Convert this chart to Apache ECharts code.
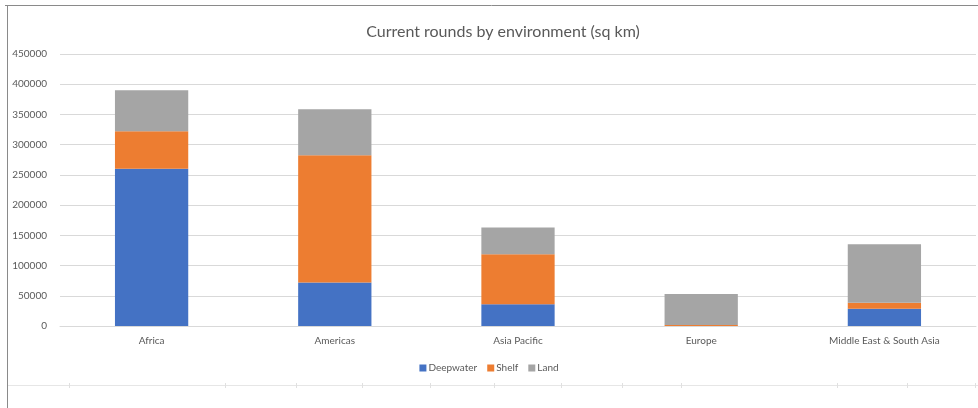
<!DOCTYPE html>
<html>
<head>
<meta charset="utf-8">
<script src="https://cdn.jsdelivr.net/npm/echarts@6/dist/echarts.min.js"></script>
<style>
html,body{margin:0;padding:0;background:#fff;}
#chart{width:978px;height:408px;}
</style>
</head>
<body>
<div id="chart"></div>
<script>
const categories = ['Africa', 'Americas', 'Asia Pacific', 'Europe', 'Middle East & South Asia'];
const deepwater = [260000, 72000, 36000, 0, 28600];
const shelf = [62000, 210500, 82500, 1500, 10000];
const land = [68000, 76000, 44500, 51500, 96500];
const yTicks = [0, 50000, 100000, 150000, 200000, 250000, 300000, 350000, 400000, 450000];
const sheetColumnEdges = [69, 225, 296, 362, 430, 494, 561, 622, 681, 837, 907, 975];

const FONT = 'Lato, "Open Sans", sans-serif';
const TXT = '#595959';

const chart = echarts.init(document.getElementById('chart'), null, {renderer: 'canvas'});

const graphics = [
  {type: 'line', shape: {x1: 7.5, y1: 6, x2: 7.5, y2: 408}, style: {stroke: '#8a8a8a', lineWidth: 1}, silent: true},
  {type: 'line', shape: {x1: 5, y1: 5.5, x2: 978, y2: 5.5}, style: {stroke: '#8a8a8a', lineWidth: 1}, silent: true},
  {type: 'line', shape: {x1: 8, y1: 385.5, x2: 978, y2: 385.5}, style: {stroke: '#e6e6e6', lineWidth: 1}, silent: true}
];
sheetColumnEdges.forEach(x => {
  graphics.push({type: 'line', shape: {x1: x + 0.5, y1: 383, x2: x + 0.5, y2: 388}, style: {stroke: '#e0e0e0', lineWidth: 1}, silent: true});
});

const mk = (name, data, color) => ({
  name, type: 'bar', stack: 'total', data,
  barWidth: '40%',
  itemStyle: {color},
  emphasis: {disabled: true}
});

chart.setOption({
  animation: false,
  backgroundColor: '#ffffff',
  textStyle: {fontFamily: FONT},
  title: {
    text: 'Current rounds by environment (sq km)',
    left: 498, top: 19, textAlign: 'center',
    textStyle: {fontFamily: FONT, fontSize: 16, fontWeight: 'normal', color: TXT}
  },
  legend: {
    data: ['Deepwater', 'Shelf', 'Land'],
    left: 'center', top: 358,
    icon: 'rect', itemWidth: 7, itemHeight: 7, itemGap: 10,
    textStyle: {fontFamily: FONT, fontSize: 10, color: TXT, padding: [0, 0, 0, -3]}
  },
  grid: {left: 60, right: 2, top: 54, bottom: 82, containLabel: false},
  xAxis: {
    type: 'category', data: categories,
    axisLine: {lineStyle: {color: '#d9d9d9'}},
    axisTick: {show: false},
    axisLabel: {fontFamily: FONT, fontSize: 10, color: TXT, margin: 10}
  },
  yAxis: {
    type: 'value', min: yTicks[0], max: yTicks[yTicks.length - 1], interval: 50000,
    axisLine: {show: false}, axisTick: {show: false},
    splitLine: {lineStyle: {color: '#d9d9d9'}},
    axisLabel: {fontFamily: FONT, fontSize: 10, color: TXT, margin: 13, formatter: v => String(v)}
  },
  series: [
    mk('Deepwater', deepwater, '#4472C4'),
    mk('Shelf', shelf, '#ED7D31'),
    mk('Land', land, '#A5A5A5')
  ],
  graphic: graphics
});
</script>
</body>
</html>
